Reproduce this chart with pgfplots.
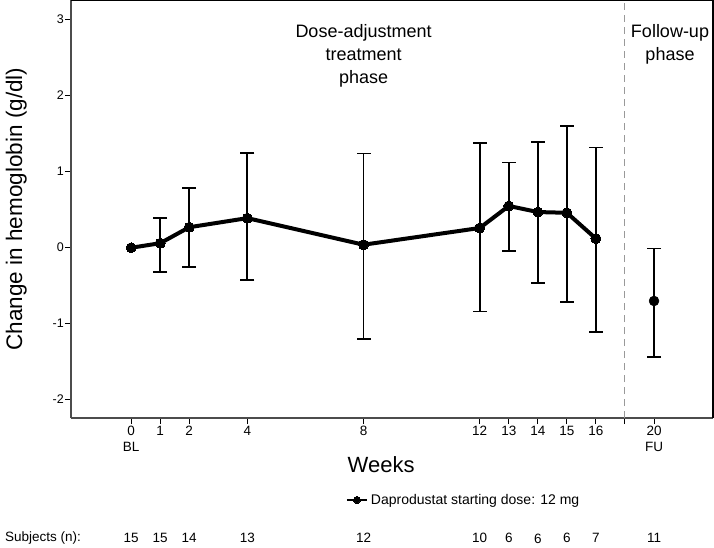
\documentclass[border=0pt]{standalone}
\usepackage{fontspec}
\setmainfont{Liberation Sans}
\usepackage{pgfplots}
\pgfplotsset{compat=1.18}
\begin{document}
\begin{tikzpicture}
\useasboundingbox (0,0) rectangle (714pt,547pt);
\begin{axis}[
  at={(71pt,129pt)}, anchor=south west,
  scale only axis, width=642pt, height=418pt,
  xmin=-2.07, xmax=20.03, ymin=-2.25, ymax=3.25,
  axis x line=bottom, axis y line=left,
  axis line style={-, line width=1.8pt, black!70},
  tick align=outside, major tick length=6pt,
  tick style={line width=1pt, black},
  xtick={0,1,2,4,8,12,13,14,15,16,17,18},
  xticklabels={{0\\BL},1,2,4,8,12,13,14,15,16,,{20\\FU}},
  xticklabel style={align=center, font=\fontsize{13.5}{16}\selectfont, inner sep=2pt},
  ytick={-2,-1,0,1,2,3},
  yticklabels={-2,-1,0,1,2,3},
  yticklabel style={font=\fontsize{12.5}{14}\selectfont, inner sep=1pt},
  xlabel={Weeks},
  xlabel style={font=\fontsize{22}{26}\selectfont, at={(axis description cs:0.483,-0.112)}, anchor=center, inner sep=0pt},
  ylabel={Change in hemoglobin (g/dl)},
  ylabel style={font=\fontsize{22.5}{26}\selectfont, at={(axis description cs:-0.085,0.50)}, anchor=center, inner sep=0pt},
  clip=false,
  legend style={draw=none, fill=none, at={(axis description cs:0.428,-0.196)}, anchor=west,
    font=\fontsize{14}{16}\selectfont, inner sep=0pt, nodes={inner xsep=3pt, inner ysep=0pt}},
  legend image code/.code={\draw[#1, line width=2pt, mark size=3.5pt, mark repeat=2, mark phase=2] plot coordinates {(0pt,0pt) (10pt,0pt) (20pt,0pt)};},
]
% dashed phase separator
\addplot[forget plot, black!40, line width=1pt, dash pattern=on 7pt off 5pt] coordinates {(17,-2.25) (17,3.25)};
% error bars (vertical lines)
\addplot[forget plot, black, line width=1.7pt, only marks, mark=none,
  error bars/.cd, y dir=both, y explicit, error mark=none,
  error bar style={line width=1.7pt, black, solid}]
coordinates {
  (1,0.05) += (0,0.33) -= (0,0.38)
  (2,0.26) += (0,0.52) -= (0,0.52)
  (4,0.38) += (0,0.86) -= (0,0.81)
  (8,0.03) += (0,1.20) -= (0,1.24)
  (12,0.25) += (0,1.12) -= (0,1.10)
  (13,0.54) += (0,0.57) -= (0,0.59)
  (14,0.46) += (0,0.92) -= (0,0.93)
  (15,0.45) += (0,1.14) -= (0,1.17)
  (16,0.11) += (0,1.20) -= (0,1.23)
  (18,-0.71) += (0,0.69) -= (0,0.74)
};
% error bar caps (upper and lower limits)
\addplot[forget plot, black, only marks, mark=-, mark size=7pt, mark options={line width=1.7pt, solid}]
coordinates {(1,0.38) (2,0.78) (4,1.24) (8,1.23) (12,1.37) (13,1.11) (14,1.38) (15,1.59) (16,1.31) (18,-0.02)};
\addplot[forget plot, black, only marks, mark=-, mark size=7pt, mark options={line width=1.7pt, solid}]
coordinates {(1,-0.33) (2,-0.26) (4,-0.43) (8,-1.21) (12,-0.85) (13,-0.05) (14,-0.47) (15,-0.72) (16,-1.12) (18,-1.45)};
% mean line
\addplot[black, line width=4pt, mark=*, mark size=5pt, mark options={solid, line width=0pt}]
coordinates {(0,-0.01) (1,0.05) (2,0.26) (4,0.38) (8,0.03) (12,0.25) (13,0.54) (14,0.46) (15,0.45) (16,0.11)};
\addlegendentry{Daprodustat starting dose: 12 mg}
\addplot[forget plot, black, only marks, mark=*, mark size=5pt] coordinates {(18,-0.71)};
% top and right frame
\draw[black, line width=1.2pt] (rel axis cs:0,1) -- (rel axis cs:1,1) -- (rel axis cs:1,0);
% phase labels
\node[anchor=north, align=center, inner sep=0pt, font=\fontsize{18}{23}\selectfont] at (axis cs:8,2.93) {Dose-adjustment\\treatment\\phase};
\node[anchor=north, align=center, inner sep=0pt, font=\fontsize{18}{23}\selectfont] at (axis cs:18.55,2.93) {Follow-up\\phase};
% subjects row
\node[font=\fontsize{13.5}{15}\selectfont, inner sep=0pt] at ([yshift=-120pt]axis cs:0,-2.25) {15};
\node[font=\fontsize{13.5}{15}\selectfont, inner sep=0pt] at ([yshift=-120pt]axis cs:1,-2.25) {15};
\node[font=\fontsize{13.5}{15}\selectfont, inner sep=0pt] at ([yshift=-120pt]axis cs:2,-2.25) {14};
\node[font=\fontsize{13.5}{15}\selectfont, inner sep=0pt] at ([yshift=-120pt]axis cs:4,-2.25) {13};
\node[font=\fontsize{13.5}{15}\selectfont, inner sep=0pt] at ([yshift=-120pt]axis cs:8,-2.25) {12};
\node[font=\fontsize{13.5}{15}\selectfont, inner sep=0pt] at ([yshift=-120pt]axis cs:12,-2.25) {10};
\node[font=\fontsize{13.5}{15}\selectfont, inner sep=0pt] at ([yshift=-120pt]axis cs:13,-2.25) {6};
\node[font=\fontsize{13.5}{15}\selectfont, inner sep=0pt] at ([yshift=-121pt]axis cs:14,-2.25) {6};
\node[font=\fontsize{13.5}{15}\selectfont, inner sep=0pt] at ([yshift=-120pt]axis cs:15,-2.25) {6};
\node[font=\fontsize{13.5}{15}\selectfont, inner sep=0pt] at ([yshift=-120pt]axis cs:16,-2.25) {7};
\node[font=\fontsize{13.5}{15}\selectfont, inner sep=0pt] at ([yshift=-120pt]axis cs:18,-2.25) {11};
\end{axis}
\node[anchor=west, inner sep=0pt, font=\fontsize{13.5}{15}\selectfont] at (5pt,9pt) {Subjects (n):};
\end{tikzpicture}
\end{document}
